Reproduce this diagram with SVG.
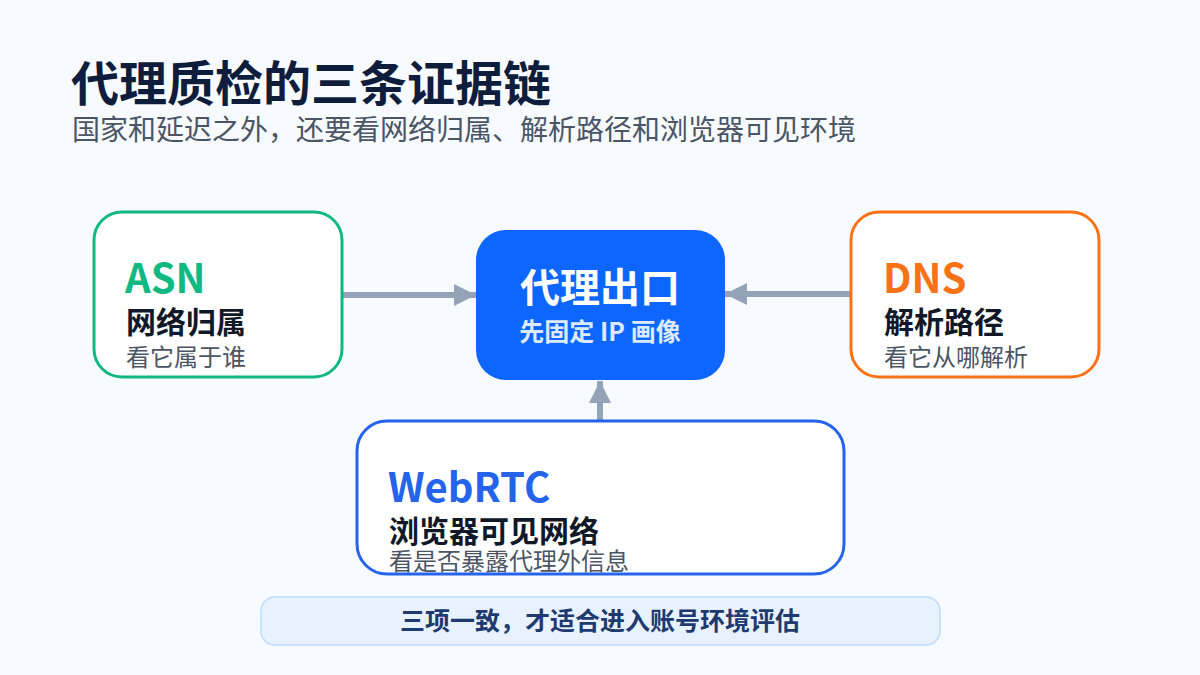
<svg xmlns="http://www.w3.org/2000/svg" width="1200" height="675" viewBox="0 0 1200 675">
<defs>
<style>
text{font-family:"Noto Sans CJK SC","Noto Sans",sans-serif}
.title{font-size:48px;font-weight:700;fill:#0f1d3d}
.sub{font-size:28px;fill:#4b5563}
.card{fill:#ffffff;stroke-width:3}
.head{font-size:40px;font-weight:700}
.name{font-size:30px;font-weight:700;fill:#111827}
.desc{font-size:24px;fill:#4b5563}
.conn{stroke:#94a3b8;stroke-width:6;fill:none}
</style>
<marker id="ah" viewBox="0 0 10 10" refX="10" refY="5" markerWidth="3.7" markerHeight="3.7" orient="auto" markerUnits="strokeWidth">
<path d="M0,0 L10,5 L0,10 Z" fill="#94a3b8"/>
</marker>
</defs>
<rect width="1200" height="675" fill="#f7faff"/>
<g id="title">
<text class="title" x="71" y="101">代理质检的三条证据链</text>
<text class="sub" x="72" y="140">国家和延迟之外，还要看网络归属、解析路径和浏览器可见环境</text>
</g>
<g id="connectors">
<line class="conn" x1="343" y1="295" x2="476" y2="295" marker-end="url(#ah)"/>
<line class="conn" x1="851" y1="294" x2="725" y2="294" marker-end="url(#ah)"/>
<line class="conn" x1="600" y1="421" x2="600" y2="381" marker-end="url(#ah)"/>
</g>
<g id="asn">
<rect class="card" x="94" y="212" width="248" height="165" rx="28" stroke="#10b981"/>
<text class="head" x="125" y="293" fill="#10b981">ASN</text>
<text class="name" x="126" y="333">网络归属</text>
<text class="desc" x="126" y="366">看它属于谁</text>
</g>
<g id="proxy">
<rect x="476" y="230" width="249" height="150" rx="30" fill="#0d66ff"/>
<text x="600" y="302" text-anchor="middle" font-size="40" font-weight="700" fill="#ffffff">代理出口</text>
<text x="600" y="341" text-anchor="middle" font-size="25" font-weight="700" fill="#dbeafe">先固定 IP 画像</text>
</g>
<g id="dns">
<rect class="card" x="851" y="212" width="248" height="165" rx="28" stroke="#f97316"/>
<text class="head" x="883" y="293" fill="#f97316">DNS</text>
<text class="name" x="884" y="333">解析路径</text>
<text class="desc" x="884" y="366">看它从哪解析</text>
</g>
<g id="webrtc">
<rect class="card" x="357" y="421" width="487" height="153" rx="30" stroke="#2563eb"/>
<text class="head" x="388" y="502" fill="#2563eb">WebRTC</text>
<text class="name" x="389" y="542">浏览器可见网络</text>
<text class="desc" x="389" y="570">看是否暴露代理外信息</text>
</g>
<g id="summary">
<rect x="261" y="597" width="679" height="48" rx="14" fill="#e8f2fe" stroke="#bfdbfe" stroke-width="1.5"/>
<text x="600" y="630" text-anchor="middle" font-size="25" font-weight="700" fill="#1e3a6e">三项一致，才适合进入账号环境评估</text>
</g>
</svg>
